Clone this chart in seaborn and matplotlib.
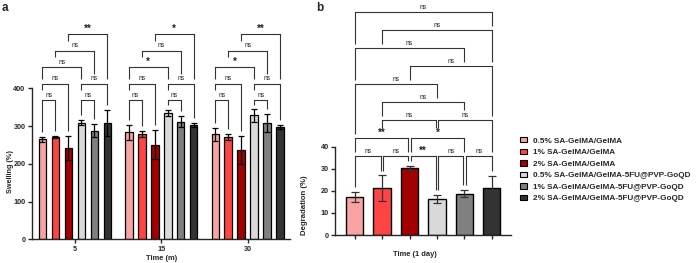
import numpy as np
import pandas as pd
import seaborn as sns
import matplotlib
matplotlib.use("Agg")
import matplotlib.pyplot as plt
from matplotlib.patches import Patch

# ---------------- data ----------------
groups = ["0.5% SA-GelMA/GelMA", "1% SA-GelMA/GelMA", "2% SA-GelMA/GelMA",
          "0.5% SA-GelMA/GelMA-5FU@PVP-GoQD", "1% SA-GelMA/GelMA-5FU@PVP-GoQD",
          "2% SA-GelMA/GelMA-5FU@PVP-GoQD"]
colors = ["#F9A3A3", "#FF4444", "#A30000", "#D9D9D9", "#808080", "#333333"]
times = ["5", "15", "30"]

swell_5 = [265, 272, 243, 309, 288, 308]
swell_5_err = [7, 3, 32, 6, 17, 35]
swell_15 = [284, 279, 251, 335, 312, 303]
swell_15_err = [20, 7, 39, 8, 14, 6]
swell_30 = [278, 270, 237, 328, 308, 298]
swell_30_err = [17, 8, 38, 16, 24, 5]

degr = [17.2, 21.3, 30.2, 16.5, 18.7, 21.1]
degr_err = [2.3, 5.7, 1.2, 1.8, 1.6, 5.6]

# comparisons: (bar i, bar j, label, stacking level)
sw_cmp_5 = [(0, 1, "ns", 0), (3, 4, "ns", 0), (0, 2, "ns", 1), (3, 5, "ns", 1),
            (0, 3, "ns", 2), (1, 4, "ns", 3), (2, 5, "**", 4)]
sw_cmp_15 = [(0, 1, "ns", 0), (3, 4, "ns", 0), (0, 2, "ns", 1), (3, 5, "ns", 1),
             (0, 3, "*", 2), (1, 4, "ns", 3), (2, 5, "*", 4)]
sw_cmp_30 = [(0, 1, "ns", 0), (3, 4, "ns", 0), (0, 2, "ns", 1), (3, 5, "ns", 1),
             (0, 3, "*", 2), (1, 4, "ns", 3), (2, 5, "**", 4)]
dg_cmp = [(0, 1, "ns", 0), (1, 2, "ns", 0), (2, 3, "**", 0), (3, 4, "ns", 0), (4, 5, "ns", 0),
          (0, 2, "**", 1), (2, 4, "*", 1), (1, 3, "ns", 2), (3, 5, "ns", 2),
          (1, 4, "ns", 3), (0, 3, "ns", 4), (2, 5, "ns", 5), (0, 4, "ns", 6),
          (1, 5, "ns", 7), (0, 5, "ns", 8)]

# ---------------- style ----------------
sns.set_style("ticks")
plt.rcParams["font.family"] = ["Liberation Sans", "DejaVu Sans"]
plt.rcParams["axes.linewidth"] = 1.0
LINE = "#333333"

W, H = 698, 263
fig = plt.figure(figsize=(W / 100, H / 100), dpi=100)


def draw_brackets(ax, xs, tops, cmps, base, step, gap, shift, text_hw):
    for (i, j, lab, lvl) in cmps:
        h = base + step * lvl
        xl, xr = xs[i], xs[j]
        if any(c[3] == lvl and c[1] == i for c in cmps):
            xl += shift
        if any(c[3] == lvl and c[0] == j for c in cmps):
            xr -= shift
        for k, xp in ((i, xl), (j, xr)):
            bottom = tops[k] + gap
            for (i2, j2, _, l2) in cmps:
                if l2 < lvl and i2 <= k <= j2:
                    h2 = base + step * l2
                    mid = (xs[i2] + xs[j2]) / 2
                    clear = step * 0.6 if abs(xp - mid) < text_hw else gap
                    bottom = max(bottom, h2 + clear)
            ax.plot([xp, xp], [bottom, h], color=LINE, lw=0.8, solid_capstyle="butt")
        ax.plot([xl, xr], [h, h], color=LINE, lw=0.8, solid_capstyle="projecting")
        if lab == "ns":
            ax.text((xl + xr) / 2, h + step * 0.08, lab, ha="center", va="bottom",
                    fontsize=4.8, color="#222222")
        else:
            ax.text((xl + xr) / 2, h + step * 0.02, lab, ha="center", va="bottom",
                    fontsize=7.0, fontweight="bold", color="#222222")


# ---------------- panel a ----------------
axa = fig.add_axes([31.7 / W, (H - 239.3) / H, 258.3 / W, 239.3 / H])
df_a = pd.DataFrame({
    "time": np.repeat(times, 6),
    "group": groups * 3,
    "value": swell_5 + swell_15 + swell_30,
})
sns.barplot(data=df_a, x="time", y="value", hue="group", order=times, hue_order=groups,
            palette=colors, saturation=1, width=0.9, gap=0.42, edgecolor="black",
            linewidth=0.9, errorbar=None, legend=False, ax=axa)
errs_a = [swell_5_err, swell_15_err, swell_30_err]
vals_a = [swell_5, swell_15, swell_30]
cmps_a = [sw_cmp_5, sw_cmp_15, sw_cmp_30]
centers = [[None] * 6 for _ in times]
for g, cont in enumerate(axa.containers):
    for t, bar in enumerate(cont):
        centers[t][g] = bar.get_x() + bar.get_width() / 2
for t in range(3):
    axa.errorbar(centers[t], vals_a[t], yerr=errs_a[t], fmt="none", ecolor="black",
                 elinewidth=0.9, capsize=2.2, capthick=0.9, zorder=5)
    tops = [v + e for v, e in zip(vals_a[t], errs_a[t])]
    draw_brackets(axa, centers[t], tops, cmps_a[t], base=368, step=44, gap=13,
                  shift=0.02, text_hw=0.095)

axa.set_xlim(-0.5, 2.49)
axa.set_ylim(0, 634)
axa.set_yticks([0, 100, 200, 300, 400])
axa.spines["left"].set_bounds(0, 400)
for s in ("top", "right"):
    axa.spines[s].set_visible(False)
axa.tick_params(axis="both", length=3, width=1, labelsize=5.2, pad=1.5)
for lab in axa.get_xticklabels() + axa.get_yticklabels():
    lab.set_fontweight("bold")
axa.set_ylabel("Swelling (%)", fontsize=5.2, fontweight="bold")
axa.yaxis.set_label_coords(-0.068, 0.285)
axa.set_xlabel("Time (m)", fontsize=5.4, fontweight="bold")
axa.xaxis.set_label_coords(0.504, -0.064)

# ---------------- panel b ----------------
axb = fig.add_axes([335.3 / W, (H - 235) / H, 175.4 / W, 235 / H])
df_b = pd.DataFrame({"group": groups, "value": degr})
sns.barplot(data=df_b, x="group", y="value", hue="group", order=groups, hue_order=groups,
            palette=colors, saturation=1, width=0.63, edgecolor="black", linewidth=1.0,
            errorbar=None, legend=False, ax=axb)
xs_b = [None] * 6
for g, cont in enumerate(axb.containers):
    for bar in cont:
        xs_b[g] = bar.get_x() + bar.get_width() / 2
axb.errorbar(xs_b, degr, yerr=degr_err, fmt="none", ecolor="#333333",
             elinewidth=0.9, capsize=3.2, capthick=0.9, zorder=5)
tops_b = [v + e for v, e in zip(degr, degr_err)]
draw_brackets(axb, xs_b, tops_b, dg_cmp, base=35.6, step=8.16, gap=2.2,
              shift=0.05, text_hw=0.3)

axb.set_xlim(-0.708, 5.693)
axb.set_ylim(0, 106.5)
axb.set_yticks([0, 10, 20, 30, 40])
axb.spines["left"].set_bounds(0, 40)
for s in ("top", "right"):
    axb.spines[s].set_visible(False)
axb.set_xticks(xs_b)
axb.set_xticklabels([])
axb.tick_params(axis="both", length=3, width=1, labelsize=5.2, pad=1.5)
for lab in axb.get_yticklabels():
    lab.set_fontweight("bold")
axb.set_ylabel("Degradation (%)", fontsize=5.6, fontweight="bold")
axb.yaxis.set_label_coords(-0.156, 0.128)
axb.set_xlabel("Time (1 day)", fontsize=5.4, fontweight="bold")
axb.xaxis.set_label_coords(0.454, -0.066)

# ---------------- legend & panel letters ----------------
handles = [Patch(facecolor=c, edgecolor="black", linewidth=0.8, label=g)
           for c, g in zip(colors, groups)]
fig.legend(handles=handles, loc="upper left", bbox_to_anchor=(520 / W, 1 - 137 / H),
           frameon=False, prop={"size": 5.9, "weight": "bold"}, handlelength=0.85,
           handleheight=0.65, handletextpad=0.75, labelspacing=0.48, borderpad=0,
           borderaxespad=0)

fig.text(2 / W, 1 - 2 / H, "a", fontsize=8.5, fontweight="bold", va="top", ha="left")
fig.text(316 / W, 1 - 2 / H, "b", fontsize=8.5, fontweight="bold", va="top", ha="left")

fig.savefig("out.png", dpi=100)
